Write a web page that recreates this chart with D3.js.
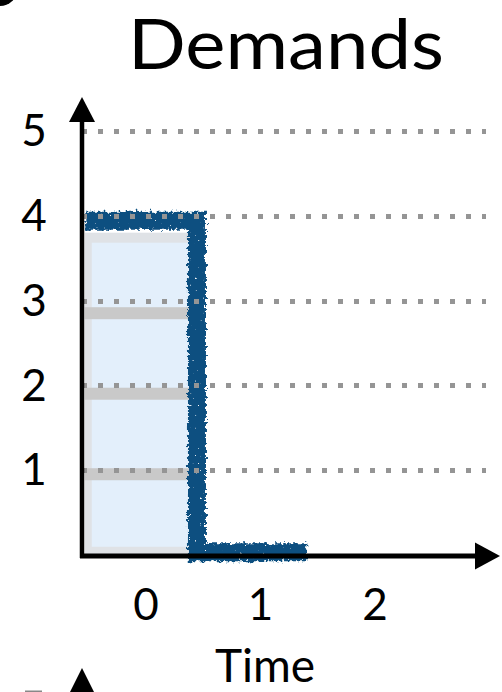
<!DOCTYPE html>
<html>
<head>
<meta charset="utf-8">
<script src="https://cdn.jsdelivr.net/npm/d3@7"></script>
<style>
  html, body { margin: 0; padding: 0; background: #fff; }
  svg { display: block; }
</style>
</head>
<body>
<svg id="chart" width="502" height="692"></svg>
<script>
// Demand profile: 4 units in period 0, nothing in period 1
const title = "Demands";
const xLabel = "Time";
const xTicks = [0, 1, 2];
const yTicks = [1, 2, 3, 4, 5];
const barPeriods = [0];
const barUnits = [4];
const stepTimes = [-0.53, 0.445, 0.445, 1.4];
const stepValues = [3.94, 3.94, 0.03, 0.03];

const svg = d3.select("#chart");
const font = "Lato, 'Open Sans', sans-serif";

const x = d3.scaleLinear().domain([0, 2]).range([146, 375]);
const y = d3.scaleLinear().domain([0, 5]).range([554.75, 131]);
const x0 = 82, yBase = 556;

// rough, lightly speckled look for the hand-drawn demand line
const defs = svg.append("defs");
const f = defs.append("filter").attr("id", "rough")
  .attr("x", "-10%").attr("y", "-10%").attr("width", "120%").attr("height", "120%");
f.append("feTurbulence").attr("type", "fractalNoise").attr("baseFrequency", 0.28)
  .attr("numOctaves", 3).attr("seed", 7).attr("result", "noise");
f.append("feDisplacementMap").attr("in", "SourceGraphic").attr("in2", "noise")
  .attr("scale", 8).attr("xChannelSelector", "R").attr("yChannelSelector", "G")
  .attr("result", "disp");
f.append("feTurbulence").attr("type", "fractalNoise").attr("baseFrequency", 0.4)
  .attr("numOctaves", 1).attr("seed", 3).attr("result", "speck");
f.append("feColorMatrix").attr("in", "speck").attr("type", "matrix")
  .attr("values", "0 0 0 0 0  0 0 0 0 0  0 0 0 0 0  -16 0 0 0 12.6")
  .attr("result", "mask");
f.append("feComposite").attr("in", "disp").attr("in2", "mask").attr("operator", "in");

// stacked unit blocks of the demand bar
const blockScale = 0.95;
const bx0 = x(-0.535), bx1 = x(0.4);
barPeriods.forEach((p, i) => {
  const n = barUnits[i];
  const top = y(n * blockScale);
  svg.append("rect").attr("x", bx0).attr("y", top)
    .attr("width", bx1 - bx0).attr("height", y(0) - top).attr("fill", "#dfe2e6");
  svg.append("rect").attr("x", bx0 + 7).attr("y", top + 10)
    .attr("width", bx1 - bx0 - 7).attr("height", y(0) - top - 18).attr("fill", "#e3effb");
  d3.range(1, n).forEach(k => {
    svg.append("rect").attr("x", bx0).attr("y", y(k * blockScale) - 6)
      .attr("width", bx1 - bx0).attr("height", 12).attr("fill", "#c9c9c9");
  });
});

// demand step line
const line = d3.line().x(d => x(d[0])).y(d => y(d[1]));
const pts = stepTimes.map((t, i) => [t, stepValues[i]]);
svg.append("path").attr("d", line(pts))
  .attr("fill", "none").attr("stroke", "#0b4f80").attr("stroke-width", 18)
  .attr("stroke-linejoin", "miter").attr("filter", "url(#rough)");

// dotted gridlines
svg.append("g").selectAll("line").data(yTicks).join("line")
  .attr("x1", x0).attr("x2", 486)
  .attr("y1", d => Math.round(y(d)) + 0.5).attr("y2", d => Math.round(y(d)) + 0.5)
  .attr("stroke", "#959595").attr("stroke-width", 5)
  .attr("stroke-dasharray", "5 11");

// axes with arrowheads
svg.append("line").attr("x1", x0).attr("x2", x0).attr("y1", yBase + 2).attr("y2", 118)
  .attr("stroke", "#000").attr("stroke-width", 4.5);
svg.append("path").attr("d", `M${x0},97 L${x0 - 13},122 L${x0 + 13},122 Z`).attr("fill", "#000");
svg.append("line").attr("x1", x0 - 2).attr("x2", 480).attr("y1", yBase).attr("y2", yBase)
  .attr("stroke", "#000").attr("stroke-width", 5);
svg.append("path").attr("d", `M500,${yBase} L475,${yBase - 13.5} L475,${yBase + 13.5} Z`).attr("fill", "#000");

// tick labels
svg.append("g").selectAll("text").data(yTicks).join("text")
  .attr("x", 34).attr("y", d => y(d)).attr("dy", "0.35em")
  .attr("text-anchor", "middle").attr("font-family", font).attr("font-size", 44)
  .text(d => d);
svg.append("g").selectAll("text").data(xTicks).join("text")
  .attr("x", d => x(d)).attr("y", 620)
  .attr("text-anchor", "middle").attr("font-family", font).attr("font-size", 44)
  .text(d => d);

// axis title and chart title
svg.append("text").attr("x", 265).attr("y", 682).attr("text-anchor", "middle")
  .attr("font-family", font).attr("font-size", 46).text(xLabel);
svg.append("text").attr("x", 286).attr("y", 69).attr("text-anchor", "middle")
  .attr("font-family", font).attr("font-size", 70)
  .attr("textLength", 316).attr("lengthAdjust", "spacingAndGlyphs").text(title);

// edges of neighbouring panels
svg.append("ellipse").attr("cx", 0).attr("cy", -10).attr("rx", 17).attr("ry", 16).attr("fill", "#000");
svg.append("path").attr("d", `M${x0},668 L${x0 - 13},694 L${x0 + 13},694 Z`).attr("fill", "#000");
svg.append("rect").attr("x", 25).attr("y", 690.5).attr("width", 17).attr("height", 2).attr("fill", "#888");
</script>
</body>
</html>
